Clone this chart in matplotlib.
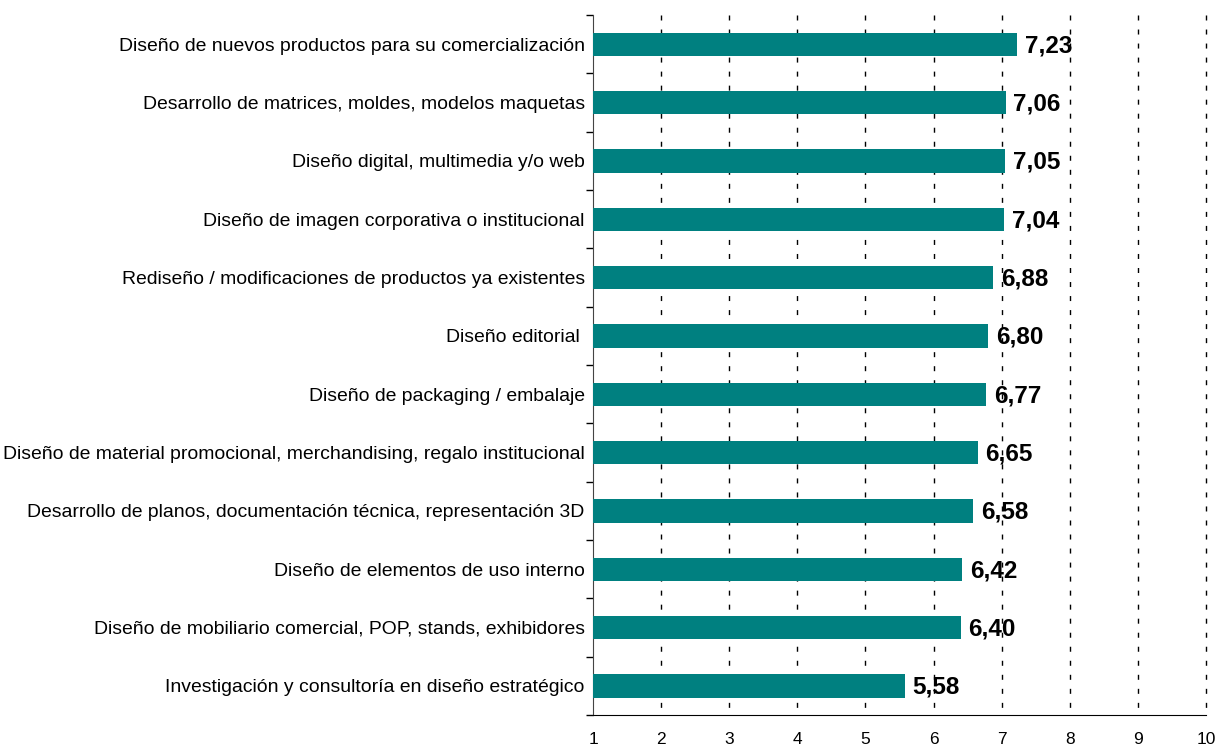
import matplotlib
matplotlib.use("Agg")
import matplotlib.pyplot as plt
from matplotlib.ticker import FixedLocator

plt.rcParams['font.family'] = ['Liberation Sans', 'DejaVu Sans']

categories = [
    "Diseño de nuevos productos para su comercialización",
    "Desarrollo de matrices, moldes, modelos maquetas",
    "Diseño digital, multimedia y/o web",
    "Diseño de imagen corporativa o institucional",
    "Rediseño / modificaciones de productos ya existentes",
    "Diseño editorial ",
    "Diseño de packaging / embalaje",
    "Diseño de material promocional, merchandising, regalo institucional",
    "Desarrollo de planos, documentación técnica, representación 3D",
    "Diseño de elementos de uso interno",
    "Diseño de mobiliario comercial, POP, stands, exhibidores",
    "Investigación y consultoría en diseño estratégico",
]
values = [7.23, 7.06, 7.05, 7.04, 6.88, 6.80, 6.77, 6.65, 6.58, 6.42, 6.40, 5.58]
xticks = [1, 2, 3, 4, 5, 6, 7, 8, 9, 10]

fig = plt.figure(figsize=(12.21, 7.49), dpi=100)
ax = fig.add_axes([593/1221, 1-715/749, (1206-593)/1221, (715-15)/749])

ypos = list(range(len(categories)))
ax.barh(ypos, [v - 1 for v in values], left=1, height=0.4, color='#008080', zorder=3)

for y, v in zip(ypos, values):
    ax.annotate(f"{v:.2f}".replace('.', ','), xy=(v, y), xytext=(5.5, -1),
                textcoords='offset points', va='center', ha='left',
                fontsize=17.5, fontweight='bold', color='black', zorder=4)

ax.set_xlim(1, 10)
ax.set_ylim(len(categories) - 0.5, -0.5)
ax.set_xticks(xticks)
ax.set_xticklabels([str(t) for t in xticks], fontsize=12.5)
ax.tick_params(axis='x', length=0, pad=12)

ax.set_yticks(ypos)
ax.set_yticklabels(categories, fontsize=13.95)
ax.tick_params(axis='y', which='major', length=0, pad=6)
ax.yaxis.set_minor_locator(FixedLocator([i - 0.5 for i in range(len(categories) + 1)]))
ax.tick_params(axis='y', which='minor', length=5, width=1, color='black', direction='out')

for x in xticks[1:]:
    ax.plot([x, x], [-0.5, len(categories) - 0.5], color='black', linewidth=1,
            linestyle=(0, (3.6, 6.5)), zorder=1, clip_on=False)

ax.spines['top'].set_visible(False)
ax.spines['right'].set_visible(False)
ax.spines['left'].set_color('#444444')
ax.spines['bottom'].set_color('black')

fig.savefig('out.png', dpi=100)
